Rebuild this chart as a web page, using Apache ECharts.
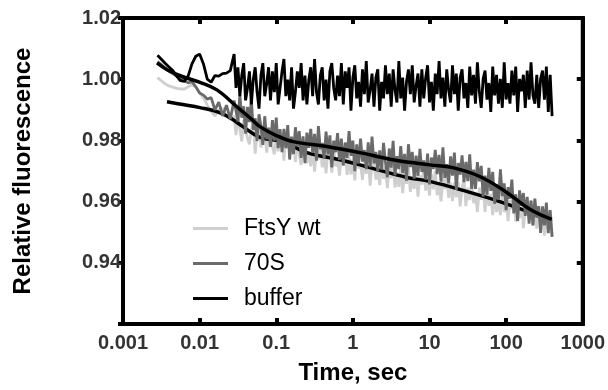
<!DOCTYPE html>
<html><head><meta charset="utf-8">
<script src="https://cdn.jsdelivr.net/npm/echarts@6/dist/echarts.min.js"></script>
<style>html,body{margin:0;padding:0;background:#fff}#c{width:608px;height:390px}</style>
</head><body><div id="c"></div>
<script>
// time points (s)
const times = [
0.002818,0.003162,0.003548,0.003981,0.004467,0.005012,0.005623,0.006310,0.007079,0.007943,0.008913,0.01,0.01122,0.01259,0.01413,0.01585,0.01778,0.01995,0.02239,0.02512,0.02818,
0.02985,0.03162,0.03350,0.03548,0.03758,0.03981,0.04217,0.04467,0.04732,0.05012,0.05309,0.05623,0.05957,0.06310,0.06683,0.07079,0.07499,0.07943,0.08414,0.08913,0.09441,
0.1,0.1059,0.1122,0.1189,0.1259,0.1334,0.1413,0.1496,0.1585,0.1679,0.1778,0.1884,0.1995,0.2113,0.2239,0.2371,0.2512,0.2661,0.2818,0.2985,0.3162,0.3350,0.3548,0.3758,0.3981,0.4217,0.4467,0.4732,0.5012,0.5309,0.5623,0.5957,0.6310,0.6683,0.7079,0.7499,0.7943,0.8414,0.8913,0.9441,
1,1.059,1.122,1.189,1.259,1.334,1.413,1.496,1.585,1.679,1.778,1.884,1.995,2.113,2.239,2.371,2.512,2.661,2.818,2.985,3.162,3.350,3.548,3.758,3.981,4.217,4.467,4.732,5.012,5.309,5.623,5.957,6.310,6.683,7.079,7.499,7.943,8.414,8.913,9.441,
10,10.59,11.22,11.89,12.59,13.34,14.13,14.96,15.85,16.79,17.78,18.84,19.95,21.13,22.39,23.71,25.12,26.61,28.18,29.85,31.62,33.50,35.48,37.58,39.81,42.17,44.67,47.32,50.12,53.09,56.23,59.57,63.10,66.83,70.79,74.99,79.43,84.14,89.13,94.41,
100,105.9,112.2,118.9,125.9,133.4,141.3,149.6,158.5,167.9,177.8,188.4,199.5,211.3,223.9,237.1,251.2,266.1,281.8,298.5,316.2,335.0,354.8,375.8,398.1];

const ftsyWt = [
1.0005,0.9995,0.9985,0.9978,0.9974,0.9970,0.9968,0.9968,0.9975,0.9982,0.9975,0.9955,0.9940,0.9915,0.9895,0.9880,0.9900,0.9905,0.9880,0.9868,0.9880,
0.9817,0.9877,0.9837,0.9797,0.9867, 0.9867,0.9807,0.9787,0.9837,0.9857, 0.9757,0.9827,0.9847,0.9777,0.9807, 0.9830,0.9760,0.9810,0.9840,0.9780,
0.9754,0.9814,0.9764,0.9824,0.9804, 0.9734,0.9824,0.9774,0.9804,0.9754, 0.9800,0.9730,0.9810,0.9750,0.9720, 0.9775,0.9795,0.9725,0.9765,0.9715,
0.9778,0.9698,0.9768,0.9738,0.9788, 0.9712,0.9752,0.9692,0.9772,0.9762, 0.9695,0.9775,0.9715,0.9745,0.9685, 0.9757,0.9717,0.9767,0.9687,0.9747,
0.9689,0.9739,0.9669,0.9759,0.9709, 0.9721,0.9671,0.9741,0.9691,0.9751, 0.9652,0.9722,0.9732,0.9672,0.9712, 0.9654,0.9734,0.9674,0.9714,0.9644,
0.9716,0.9676,0.9726,0.9646,0.9696, 0.9648,0.9708,0.9628,0.9698,0.9658, 0.9712,0.9632,0.9682,0.9642,0.9702, 0.9616,0.9686,0.9656,0.9706,0.9636,
0.9680,0.9620,0.9690,0.9640,0.9700, 0.9621,0.9661,0.9601,0.9681,0.9641, 0.9682,0.9612,0.9662,0.9602,0.9662, 0.9614,0.9664,0.9584,0.9644,0.9674,
0.9585,0.9645,0.9605,0.9665,0.9595, 0.9626,0.9566,0.9646,0.9606,0.9646, 0.9566,0.9646,0.9586,0.9626,0.9556, 0.9626,0.9566,0.9606,0.9556,0.9636,
0.9566,0.9616,0.9536,0.9606,0.9576, 0.9615,0.9535,0.9595,0.9545,0.9605, 0.9513,0.9573,0.9593,0.9543,0.9603, 0.9522,0.9572,0.9512,0.9582,0.9532,
0.9569,0.9489,0.9559,0.9509,0.9549, 0.9490];

const s70 = [
1.0057,1.0048,1.0036,1.0026,1.0018,1.0010,1.0003,0.9995,0.9988,0.9992,0.9975,0.9955,0.9948,0.9935,0.9940,0.9900,0.9925,0.9880,0.9915,0.9870,0.9930,
0.9924,0.98615,0.9949,0.9874,0.99115, 0.9822,0.99095,0.98595,0.99345,0.98345, 0.9873,0.9798,0.98855,0.9848,0.97855, 0.9879,0.9804,0.98415,0.9779,0.98665,
0.97995,0.98745,0.97745,0.9837,0.9762, 0.98375,0.9775,0.985,0.97375,0.98125, 0.97555,0.9843,0.97805,0.98305,0.9743, 0.9813,0.97255,0.98255,0.97755,0.9838,
0.9759,0.98215,0.9734,0.98465,0.97715, 0.97915,0.97415,0.9829,0.9754,0.98165, 0.97115,0.9799,0.97615,0.9824,0.97365, 0.98055,0.9718,0.9793,0.9743,0.98305,
0.97495,0.97995,0.96995,0.9787,0.97245, 0.9806,0.9731,0.97685,0.9706,0.97935, 0.97125,0.98125,0.9725,0.97625,0.9700, 0.9767,0.97045,0.9792,0.97295,0.96795,
0.97735,0.9711,0.97985,0.9686,0.97485, 0.9706,0.9781,0.96935,0.9756,0.96685, 0.97875,0.97125,0.97625,0.9675,0.9750, 0.96845,0.9772,0.9697,0.97345,0.9672,
0.97565,0.96565,0.9744,0.97065,0.9769, 0.9690,0.97525,0.9665,0.97775,0.96775, 0.97225,0.9660,0.97475,0.9685,0.9760, 0.96385,0.9726,0.96885,0.9751,0.96635,
0.97295,0.9667,0.97545,0.9642,0.97045, 0.96415,0.9729,0.96665,0.97165,0.96165, 0.9685,0.96225,0.9710,0.9635,0.96975, 0.9593,0.96555,0.96055,0.97055,0.9618,
0.96595,0.9572,0.9647,0.96095,0.9672, 0.95615,0.9624,0.95365,0.96365,0.95865, 0.9628,0.9553,0.96155,0.9528,0.9603, 0.95225,0.9610,0.95475,0.9585,0.94975,
0.95845,0.9522,0.9597,0.9497,0.9572, 0.9485];

const buffer = [
1.0078,1.0065,1.0052,1.0040,1.0028,1.0010,0.9995,0.9993,1.0010,1.0050,1.0075,1.0082,1.0050,1.0000,0.9990,1.0012,1.0010,1.0018,1.0020,1.0028,1.0082,
0.99715,1.0039,0.99445,1.0012,1.00525,0.9931,0.99715,1.00255,0.99175,0.99985,1.0039,0.9958,0.9904,1.0012,1.00525,0.99445,0.9985,1.0039,0.9931,1.00255,
0.9958,1.00525,0.99175,0.99715,1.00255,1.0066,0.99445,0.99985,0.9931,1.0039,0.9904,0.9958,1.00255,0.99715,1.00525,0.9931,1.0012,0.99175,0.99985,1.0039,
0.99445,1.0066,0.9958,0.99175,1.0012,1.0039,0.9931,0.99985,0.9904,1.00255,1.00525,0.99715,0.9931,1.0012,0.99445,1.00525,0.99175,1.00255,0.99715,1.0039,
0.9897,1.0005,1.00455,0.99375,0.99915,0.99105,1.0032,0.9951,1.0059,0.9924,0.99645,1.00185,0.99105,1.0005,1.0032,0.9897,0.99915,0.99375,1.00455,0.9951,
1.00185,0.99105,1.0032,0.99645,0.9924,1.0059,0.99375,1.0005,0.9897,0.99915,1.0032,0.9951,1.00455,0.9924,0.9978,1.00185,0.99105,1.0032,0.99375,1.0005,
1.00455,0.9924,0.99915,0.9897,1.00185,0.9951,1.0059,0.99375,1.0005,0.99105,1.0032,0.99645,0.9924,1.00455,0.9951,1.00185,0.9897,1.0005,1.0032,0.99375,
0.99875,0.99065,1.00415,0.9947,1.00145,0.992,1.0055,0.99605,0.99065,1.0001,1.0028,0.99335,0.99875,0.9893,1.00415,0.9947,1.00145,0.992,1.0001,0.99065,
1.0055,0.99335,0.99875,0.992,1.0028,0.9947,1.00415,0.9893,1.0001,0.99605,1.00145,0.99065,1.0028,0.99335,1.0055,0.9947,0.992,1.00145,0.99065,1.0001,
1.0028,0.99335,1.00415,0.9893,1.00145,0.98795];

// smooth fit curves
const fit70Times = [0.00278,0.00375,0.00606,0.0101,0.0168,0.0307,0.0453,0.0612,0.102,0.165,0.458,1.23,3.33,10.1,20.1,45.3,102,204,394];
const fit70 = [1.0053,1.0031,1.0008,0.9990,0.9965,0.9910,0.9874,0.9845,0.9815,0.9796,0.9780,0.9760,0.9737,0.9720,0.9711,0.9682,0.9630,0.9575,0.9542];
const fitFtsTimes = [0.00375,0.00606,0.0101,0.0168,0.0249,0.0367,0.0612,0.122,0.251,0.676,1.67,5.06,10.1,33.6,82.6,204,394];
const fitFts = [0.9926,0.9917,0.9907,0.9894,0.9874,0.9845,0.9810,0.9796,0.9760,0.9737,0.9711,0.9679,0.9666,0.9630,0.9600,0.9565,0.9535];

const yTicks = ['', '0.94', '0.96', '0.98', '1.00', '1.02'];
const xTicks = ['0.001','0.01','0.1','1','10','100','1000'];

const pair = (t, v) => t.map((x, i) => [x, v[i]]);
const FONT = 'Liberation Sans, Arial, sans-serif';
const chart = echarts.init(document.getElementById('c'), null, {renderer: 'canvas'});
const mkLine = () => ({show: true, onZero: false, lineStyle: {color: '#000', width: 4}});
const mkTick = (inside, len) => ({show: true, inside: inside, length: len, lineStyle: {color: '#000', width: 4}});
const yLabel = v => { const i = Math.round((v - 0.92) / 0.02); return yTicks[i] !== undefined ? yTicks[i] : ''; };
const xLabel = v => { const i = Math.round(Math.log10(v) + 3); return xTicks[i] !== undefined ? xTicks[i] : ''; };
chart.setOption({
  animation: false,
  grid: {left: 123, right: 25, top: 18, bottom: 65, containLabel: false, show: true, borderColor: '#000', borderWidth: 4, backgroundColor: 'transparent'},
  legend: {
    orient: 'vertical', left: 188, top: 212, itemWidth: 35, itemHeight: 3, itemGap: 12, icon: 'rect',
    data: ['FtsY wt', '70S', 'buffer'],
    textStyle: {fontFamily: FONT, fontSize: 23, color: '#000', padding: [0, 0, 0, 11]}
  },
  xAxis: [
    {type: 'log', logBase: 10, min: 0.001, max: 1000, position: 'bottom',
     name: 'Time, sec', nameLocation: 'middle', nameGap: 37,
     nameTextStyle: {fontFamily: FONT, fontSize: 24, fontWeight: 'bold', color: '#000'},
     axisLine: mkLine(), axisTick: mkTick(true, 6),
     minorTick: {show: false}, splitLine: {show: false},
     axisLabel: {fontFamily: FONT, fontSize: 20, fontWeight: 'bold', color: '#333', margin: 9, formatter: xLabel}},
    {type: 'log', logBase: 10, min: 0.001, max: 1000, position: 'top',
     axisLine: mkLine(), axisTick: mkTick(true, 6),
     splitLine: {show: false}, axisLabel: {show: false}}
  ],
  yAxis: [
    {type: 'value', min: 0.92, max: 1.02, interval: 0.02, position: 'left',
     name: 'Relative fluorescence', nameLocation: 'middle', nameGap: 88,
     nameTextStyle: {fontFamily: FONT, fontSize: 24, fontWeight: 'bold', color: '#000'},
     axisLine: mkLine(), axisTick: mkTick(false, 5),
     splitLine: {show: false},
     axisLabel: {fontFamily: FONT, fontSize: 20, fontWeight: 'bold', color: '#333', margin: 2, formatter: yLabel}},
    {type: 'value', min: 0.92, max: 1.02, interval: 0.02, position: 'right',
     axisLine: mkLine(), axisTick: mkTick(true, 6),
     splitLine: {show: false}, axisLabel: {show: false}}
  ],
  series: [
    {name: 'FtsY wt', type: 'line', data: pair(times, ftsyWt), showSymbol: false, symbol: 'none',
     color: '#cfcfcf', lineStyle: {color: '#cfcfcf', width: 2.8}, z: 2},
    {name: 'fitFts', type: 'line', data: pair(fitFtsTimes, fitFts), showSymbol: false, symbol: 'none', smooth: 0.4,
     color: '#000', lineStyle: {color: '#000', width: 3.5}, z: 3},
    {name: '70S', type: 'line', data: pair(times, s70), showSymbol: false, symbol: 'none',
     color: '#6a6a6a', lineStyle: {color: '#6a6a6a', width: 2.8}, z: 4},
    {name: 'fit70', type: 'line', data: pair(fit70Times, fit70), showSymbol: false, symbol: 'none', smooth: 0.4,
     color: '#000', lineStyle: {color: '#000', width: 3.5}, z: 5},
    {name: 'buffer', type: 'line', data: pair(times, buffer), showSymbol: false, symbol: 'none',
     color: '#000', lineStyle: {color: '#000', width: 2.8}, z: 6}
  ]
});
</script></body></html>
